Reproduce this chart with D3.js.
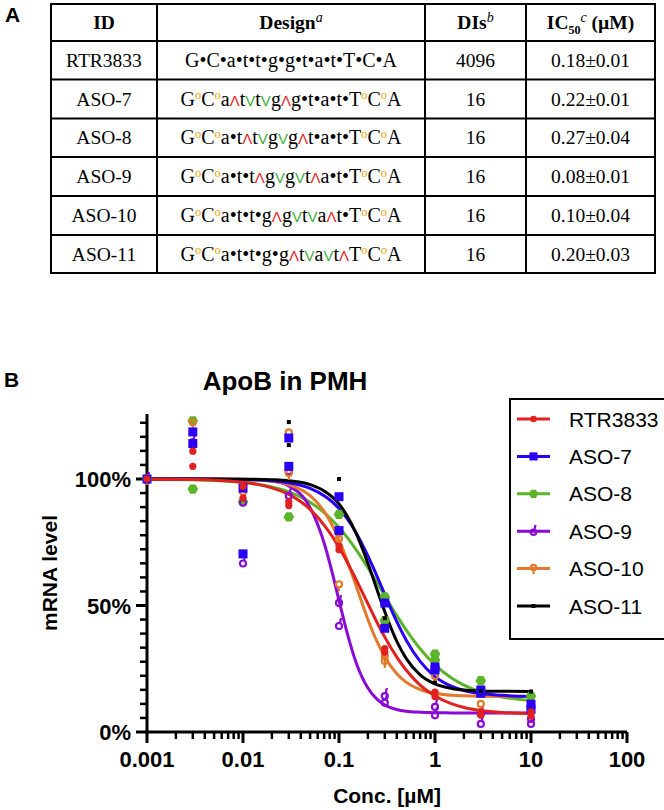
<!DOCTYPE html>
<html><head><meta charset="utf-8">
<script src="https://cdn.jsdelivr.net/npm/d3@7"></script>
<style>
html,body{margin:0;padding:0;background:#fff;}
svg{display:block;}
</style></head>
<body>
<svg id="chart" width="664" height="810"></svg>
<script>
// ---------- DATA ----------
const tableIds = ["RTR3833","ASO-7","ASO-8","ASO-9","ASO-10","ASO-11"];
const tableBases = ["G","C","a","t","t","g","g","t","a","t","T","C","A"];
// linkage codes between bases: "•" phosphorothioate, "o" (orange), "^" (red), "v" (green)
const tableLinks = ["••••••••••••","oo^vv^••••oo","oo•^vv^•••oo","oo••^vv^••oo","oo•••^vv^•oo","oo••••^vv^oo"];
const tableDIs = ["4096","16","16","16","16","16"];
const tableIC50 = ["0.18±0.01","0.22±0.01","0.27±0.04","0.08±0.01","0.10±0.04","0.20±0.03"];

const seriesNames = ["RTR3833","ASO-7","ASO-8","ASO-9","ASO-10","ASO-11"];
const seriesColors = ["#e0211f","#2a00f5","#5bb52a","#8a0ad6","#e3792a","#000000"];
const seriesSymbols = ["circle","square","hexagon","ringUp","ringDown","tiny"];

// measured replicate points [conc µM, mRNA %]
const pointsRTR3833 = [[0.001,100],[0.003,111],[0.003,105],[0.01,97],[0.01,92.5],[0.03,89.5],[0.03,91],[0.1,72],[0.1,73.5],[0.3,33],[0.3,31.5],[1,15.8],[1,14],[3,8],[3,6.7],[10,8],[10,6.3]];
const pointsASO7 = [[0.001,100],[0.003,118.6],[0.003,114],[0.01,96.4],[0.01,70.4],[0.03,116.2],[0.03,105],[0.1,93],[0.1,79.6],[0.3,51],[0.3,41],[1,25.7],[1,24.5],[3,16.6],[3,15.3],[10,11],[10,9]];
const pointsASO8 = [[0.001,100],[0.003,123],[0.003,96],[0.01,91],[0.03,85],[0.1,86],[0.3,53.4],[0.3,44],[1,30.8],[1,28.5],[3,20.3],[3,16.5],[10,14.2]];
const pointsASO9 = [[0.001,100],[0.003,115],[0.01,91],[0.01,67],[0.03,103.5],[0.03,93.7],[0.1,51.4],[0.1,42.3],[0.3,14.6],[0.3,12],[1,10.3],[1,7],[3,7.5],[3,3.6],[10,5.5],[10,3.6]];
const pointsASO10 = [[0.001,100],[0.003,122],[0.01,94.5],[0.03,118],[0.03,102],[0.1,76],[0.1,58],[0.3,29.6],[0.3,27.7],[1,21.7],[3,10.7],[10,7.5]];
const pointsASO11 = [[0.001,100],[0.03,122.5],[0.03,113.4],[0.1,100],[0.3,45],[1,19.5],[3,16.2],[10,16]];

// fitted curves read at these concentrations
const curveConc = [0.001,0.003,0.01,0.02,0.03,0.05,0.07,0.085,0.1,0.12,0.15,0.2,0.25,0.3,0.4,0.5,0.7,1,1.5,2,3,5,10];
const curveRTR3833 = [99.95,99.8,98.7,96.5,93.9,88,81.8,77.3,73,67.6,60.4,50.7,43.2,37.5,29.6,24.5,18.5,14.2,11.1,9.7,8.5,7.7,7.3];
const curveASO7 = [100,99.98,99.8,99.3,98.5,96.3,93.4,91,88.3,84.6,78.9,69.6,61.4,54.3,43.6,36.4,27.9,21.9,18,16.4,15.2,14.5,14.1];
const curveASO8 = [99.9,99.7,98.65,96.85,94.9,90.8,86.7,83.7,80.9,77.2,72.2,64.9,58.9,53.8,46,40.4,32.9,26.5,21.2,18.5,15.8,13.85,12.5];
const curveASO9 = [100,100,99.9,99.2,97.3,88.7,74.7,63,52,40,27.7,17.4,12.9,10.7,8.9,8.2,7.8,7.6,7.55,7.5,7.5,7.5,7.5];
const curveASO10 = [100,99.99,99.8,99.1,97.8,93.4,87.2,81.7,76,68.4,58,44.5,35.6,29.7,23,19.7,16.8,15.3,14.5,14.3,14.15,14.05,14];
const curveASO11 = [100,100,99.94,99.7,99.3,97.8,95.3,92.9,90.1,85.8,78.7,66.7,56,47.5,35.8,29.1,22.6,19,17.2,16.6,16.25,16.1,16];

const xTickValues = [0.001,0.01,0.1,1,10,100];
const xTickLabels = ["0.001","0.01","0.1","1","10","100"];
const yTickValues = [0,50,100];
const yTickLabels = ["0%","50%","100%"];

// ---------- TABLE ----------
const svg = d3.select("#chart");
const serif = "'Liberation Serif','Times New Roman',serif";
const sans = "'Liberation Sans',Arial,Helvetica,sans-serif";

svg.append("text").attr("x",5).attr("y",22).attr("font-family",sans).attr("font-weight","bold")
  .attr("font-size",21).text("A");

const colEdges = [51,157,425,526,655];
const rowEdges = [4,41,79.5,118.5,157,196,235,273];
const tbl = svg.append("g");
rowEdges.forEach(y=>tbl.append("line").attr("x1",colEdges[0]-1).attr("x2",colEdges[4]+1).attr("y1",y).attr("y2",y)
  .attr("stroke","#000").attr("stroke-width",2));
colEdges.forEach(x=>tbl.append("line").attr("x1",x).attr("x2",x).attr("y1",rowEdges[0]).attr("y2",rowEdges[7])
  .attr("stroke","#000").attr("stroke-width",2));
const colCenter = i => (colEdges[i]+colEdges[i+1])/2;
const rowCenter = i => (rowEdges[i]+rowEdges[i+1])/2;

function headerText(ci){ return tbl.append("text").attr("x",colCenter(ci)).attr("y",rowCenter(0)+6.5)
  .attr("text-anchor","middle").attr("font-family",serif).attr("font-size",19.5).attr("font-weight","bold"); }
headerText(0).text("ID");
let h1 = headerText(1); h1.append("tspan").text("Design");
h1.append("tspan").attr("font-style","italic").attr("font-weight","normal").attr("font-size",14).attr("dy",-7).text("a");
let h2 = headerText(2); h2.append("tspan").text("DIs");
h2.append("tspan").attr("font-style","italic").attr("font-weight","normal").attr("font-size",14).attr("dy",-7).text("b");
let h3 = headerText(3); h3.append("tspan").text("IC");
h3.append("tspan").attr("font-size",12).attr("dy",5).text("50");
h3.append("tspan").attr("font-style","italic").attr("font-weight","normal").attr("font-size",14).attr("dy",-12).text("c");
h3.append("tspan").attr("dy",7).text(" (µM)");

const linkStyle = {"•":{c:"#000",t:"•"},"o":{c:"#f0a000",t:"o"},"^":{c:"#e8262a",t:"Λ"},"v":{c:"#3fae3c",t:"V"}};
tableIds.forEach((id,r)=>{
  const yb = rowCenter(r+1)+6.5;
  tbl.append("text").attr("x",colCenter(0)).attr("y",yb).attr("text-anchor","middle")
    .attr("font-family",serif).attr("font-size",19.5).text(id);
  tbl.append("text").attr("x",colCenter(2)).attr("y",yb).attr("text-anchor","middle")
    .attr("font-family",serif).attr("font-size",19.5).text(tableDIs[r]);
  tbl.append("text").attr("x",colCenter(3)).attr("y",yb).attr("text-anchor","middle")
    .attr("font-family",serif).attr("font-size",19.5).text(tableIC50[r]);
  const t = tbl.append("text").attr("x",colCenter(1)).attr("y",yb).attr("text-anchor","middle")
    .attr("font-family",serif).attr("font-size",20);
  let shifted = 0;
  tableBases.forEach((b,i)=>{
    t.append("tspan").attr("fill","#000").attr("dy",-shifted).text(b); shifted = 0;
    if(i<tableLinks[r].length){
      const L = tableLinks[r][i], s = linkStyle[L];
      if(L==="o"){ t.append("tspan").attr("fill",s.c).attr("font-size",12.5).attr("dy",-6.5).text(s.t); shifted=-6.5; }
      else if(L==="•"){ t.append("tspan").attr("fill",s.c).text(s.t); }
      else { t.append("tspan").attr("fill",s.c).attr("font-family",sans).attr("font-weight","normal")
        .attr("font-size",15).text(s.t); }
    }
  });
});

// ---------- PLOT ----------
svg.append("text").attr("x",4).attr("y",387).attr("font-family",sans).attr("font-weight","bold")
  .attr("font-size",21).text("B");

const x = d3.scaleLog().domain([0.001,100]).range([147,627]);
const y = d3.scaleLinear().domain([0,100]).range([732,479]);
const yTop = 125.7;

svg.append("text").attr("x",285).attr("y",390).attr("text-anchor","middle").attr("font-family",sans)
  .attr("font-weight","bold").attr("font-size",26).text("ApoB in PMH");

// axes
const axes = svg.append("g").attr("stroke","#000").attr("stroke-width",3).attr("fill","none");
axes.append("line").attr("x1",x(0.001)).attr("x2",x(0.001)).attr("y1",y(yTop)).attr("y2",y(0)+1.5);
axes.append("line").attr("x1",x(0.001)-1.5).attr("x2",x(100)).attr("y1",y(0)).attr("y2",y(0));
const yMinor = d3.range(0,23).map(i=>i*50/9).filter(v=>v<=yTop);
yMinor.forEach(v=>{
  const major = yTickValues.some(m=>Math.abs(m-v)<1e-6);
  axes.append("line").attr("x1",x(0.001)-(major?11:7)).attr("x2",x(0.001)).attr("y1",y(v)).attr("y2",y(v))
    .attr("stroke-width",major?3:2.5);
});
const xMinor = [];
for(let e=-3;e<2;e++){ for(let k=1;k<10;k++){ xMinor.push(k*Math.pow(10,e)); } }
xMinor.push(100);
xMinor.forEach(v=>{
  const major = Math.abs(Math.log10(v)-Math.round(Math.log10(v)))<1e-9;
  axes.append("line").attr("x1",x(v)).attr("x2",x(v)).attr("y1",y(0)).attr("y2",y(0)+(major?11:7))
    .attr("stroke-width",major?3:2.5);
});
const lab = svg.append("g").attr("font-family",sans).attr("font-weight","bold").attr("font-size",22).attr("fill","#000");
yTickValues.forEach((v,i)=>lab.append("text").attr("x",131).attr("y",y(v)+8).attr("text-anchor","end").text(yTickLabels[i]));
xTickValues.forEach((v,i)=>lab.append("text").attr("x",x(v)).attr("y",767).attr("text-anchor","middle").text(xTickLabels[i]));
lab.append("text").attr("x",387).attr("y",803).attr("text-anchor","middle").attr("font-size",21).text("Conc. [µM]");
lab.append("text").attr("transform","translate(57,573) rotate(-90)").attr("text-anchor","middle").attr("font-size",21).text("mRNA level");

function drawSymbol(g, kind, color, cx, cy, scale){
  scale = scale||1;
  if(kind==="circle"){ g.append("circle").attr("cx",cx).attr("cy",cy).attr("r",3.6*scale).attr("fill",color); }
  else if(kind==="square"){ const s=9*scale; g.append("rect").attr("x",cx-s/2).attr("y",cy-s/2).attr("width",s).attr("height",s).attr("fill",color); }
  else if(kind==="hexagon"){ const r=5.3*scale; const pts=d3.range(6).map(i=>{const a=Math.PI/3*i; return [cx+r*Math.cos(a), cy+r*Math.sin(a)];});
    g.append("path").attr("d","M"+pts.join("L")+"Z").attr("fill",color); }
  else if(kind==="ringUp"){ g.append("circle").attr("cx",cx).attr("cy",cy+1).attr("r",3*scale).attr("fill","none").attr("stroke",color).attr("stroke-width",2.2);
    g.append("line").attr("x1",cx+1).attr("x2",cx+2).attr("y1",cy-2).attr("y2",cy-7*scale).attr("stroke",color).attr("stroke-width",2.2); }
  else if(kind==="ringDown"){ g.append("circle").attr("cx",cx).attr("cy",cy-1).attr("r",3*scale).attr("fill","none").attr("stroke",color).attr("stroke-width",2.2);
    g.append("line").attr("x1",cx).attr("x2",cx).attr("y1",cy+2).attr("y2",cy+6*scale).attr("stroke",color).attr("stroke-width",2.2); }
  else if(kind==="tiny"){ g.append("rect").attr("x",cx-2).attr("y",cy-2).attr("width",4).attr("height",4).attr("fill",color); }
}

const curves = [curveRTR3833,curveASO7,curveASO8,curveASO9,curveASO10,curveASO11];
const points = [pointsRTR3833,pointsASO7,pointsASO8,pointsASO9,pointsASO10,pointsASO11];
const line = d3.line().x(d=>x(d[0])).y(d=>y(d[1])).curve(d3.curveMonotoneX);
const drawOrder = [2,3,4,1,5,0];
const plot = svg.append("g");
drawOrder.forEach(si=>{
  plot.append("path").attr("d",line(curveConc.map((c,i)=>[c,curves[si][i]])))
    .attr("fill","none").attr("stroke",seriesColors[si]).attr("stroke-width",3);
});
drawOrder.forEach(si=>{
  points[si].forEach(p=>drawSymbol(plot, seriesSymbols[si], seriesColors[si], x(p[0]), y(p[1])));
});

// legend
const lg = svg.append("g");
lg.append("rect").attr("x",510).attr("y",399).attr("width",170).attr("height",240).attr("fill","#fff")
  .attr("stroke","#000").attr("stroke-width",2);
seriesNames.forEach((n,i)=>{
  const ly = 419 + i*37.4;
  lg.append("line").attr("x1",517).attr("x2",550).attr("y1",ly).attr("y2",ly).attr("stroke",seriesColors[i]).attr("stroke-width",3);
  drawSymbol(lg, seriesSymbols[i], seriesColors[i], 533.5, ly, 0.9);
  lg.append("text").attr("x",569).attr("y",ly+7.5).attr("font-family",sans).attr("font-size",21).text(n);
});
</script>
</body></html>
